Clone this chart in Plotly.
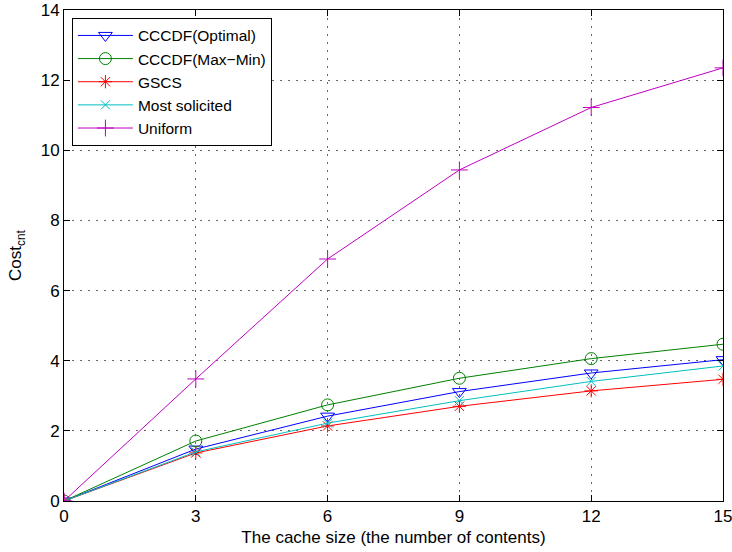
import plotly.graph_objects as go

# Cache sizes (number of contents) on the x axis
cache_size = [0, 3, 6, 9, 12, 15]

# Content retrieval cost for each caching strategy
cost_optimal = [0, 1.48, 2.42, 3.12, 3.65, 4.03]
cost_maxmin = [0, 1.71, 2.74, 3.50, 4.06, 4.47]
cost_gscs = [0, 1.37, 2.14, 2.70, 3.14, 3.47]
cost_most_solicited = [0, 1.40, 2.22, 2.86, 3.41, 3.85]
cost_uniform = [0, 3.48, 6.90, 9.44, 11.22, 12.35]

x_ticks = [0, 3, 6, 9, 12, 15]
y_ticks = [0, 2, 4, 6, 8, 10, 12, 14]

series = [
    ("CCCDF(Optimal)", cost_optimal, "#0000ff", "triangle-down-open", 12),
    ("CCCDF(Max\u2212Min)", cost_maxmin, "#008000", "circle-open", 12),
    ("GSCS", cost_gscs, "#ff0000", "asterisk-open", 11),
    ("Most solicited", cost_most_solicited, "#00bfbf", "x-thin-open", 9),
    ("Uniform", cost_uniform, "#bf00bf", "cross-thin-open", 12),
]

fig = go.Figure()
for name, values, color, symbol, size in series:
    fig.add_trace(go.Scatter(
        x=cache_size, y=values, name=name, mode="lines+markers",
        line=dict(color=color, width=1),
        marker=dict(symbol=symbol, size=size, color=color,
                    line=dict(color=color, width=1)),
    ))

axis_common = dict(
    showline=True, linecolor="black", linewidth=1, mirror="allticks",
    ticks="inside", ticklen=6, tickcolor="black", automargin=False,
    showgrid=True, gridcolor="#666666", griddash="1.5px,6.5px", gridwidth=1,
    zeroline=False, tickfont=dict(size=17, color="black"),
    ticklabeloverflow="allow",
)

fig.update_xaxes(range=[0, 15], tickvals=x_ticks,
                 title=dict(text="The cache size (the number of contents)",
                            font=dict(size=17, color="black"), standoff=5),
                 **axis_common)
fig.update_yaxes(range=[0, 14], tickvals=y_ticks,
                 title=dict(text="Cost<sub>cnt</sub>",
                            font=dict(size=17, color="black"), standoff=14),
                 **axis_common)

fig.update_layout(
    width=732, height=552,
    margin=dict(l=64, r=9, t=10, b=51, autoexpand=False),
    paper_bgcolor="white", plot_bgcolor="white",
    font=dict(family="Liberation Sans, Arial, sans-serif", size=16, color="black"),
    legend=dict(x=0.012, y=0.984, xanchor="left", yanchor="top",
                bgcolor="white", bordercolor="black", borderwidth=1,
                font=dict(size=15.5), tracegroupgap=0, itemwidth=55),
    showlegend=True,
)

fig.write_html("out.html")
